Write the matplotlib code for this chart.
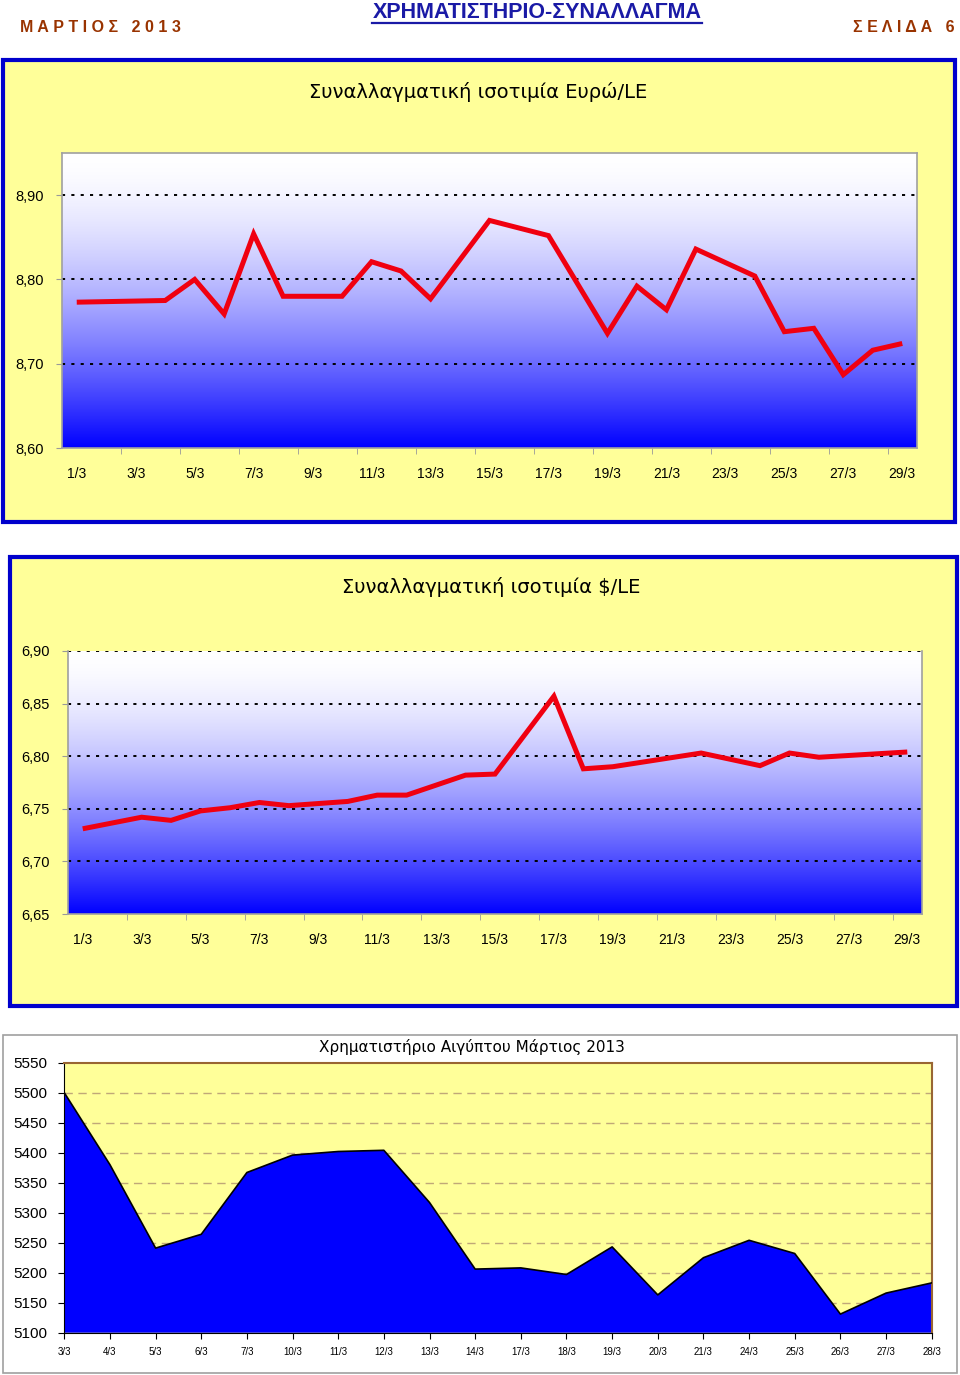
import numpy as np
import matplotlib.pyplot as plt
from matplotlib.patches import Rectangle
from matplotlib.lines import Line2D
from matplotlib.ticker import FuncFormatter

# ---- δεδομένα (εκτίμηση από την εικόνα) ----
eur_days = [1, 4, 5, 6, 7, 8, 10, 11, 12, 13, 15, 17, 19, 20, 21, 22, 24, 25, 26, 27, 28, 29]
eur_vals = [8.773, 8.775, 8.800, 8.759, 8.854, 8.780, 8.780, 8.821, 8.810, 8.777, 8.870,
            8.852, 8.736, 8.792, 8.764, 8.836, 8.804, 8.738, 8.742, 8.687, 8.716, 8.724]

usd_days = [1, 3, 4, 5, 6, 7, 8, 10, 11, 12, 14, 15, 17, 18, 19, 22, 24, 25, 26, 29]
usd_vals = [6.731, 6.742, 6.739, 6.748, 6.751, 6.756, 6.753, 6.757, 6.763, 6.763, 6.782,
            6.783, 6.857, 6.788, 6.790, 6.803, 6.791, 6.803, 6.799, 6.804]

egx_dates = ["3/3", "4/3", "5/3", "6/3", "7/3", "10/3", "11/3", "12/3", "13/3", "14/3",
             "17/3", "18/3", "19/3", "20/3", "21/3", "24/3", "25/3", "26/3", "27/3", "28/3"]
egx_vals = [5500, 5380, 5241, 5264, 5367, 5396, 5402, 5404, 5317, 5206,
            5208, 5197, 5243, 5163, 5225, 5254, 5232, 5131, 5166, 5183]

fx_labels = [f"{d}/3" for d in range(1, 30, 2)]

W, H = 960, 1375
fig = plt.figure(figsize=(W / 100, H / 100), dpi=100)
fig.patch.set_facecolor("white")

TICK_FONT = "Liberation Sans"
TITLE_FONT = "DejaVu Sans"


def box(l, t, r, b):
    """pixel box -> figure fraction [left, bottom, width, height]"""
    return [l / W, 1 - b / H, (r - l) / W, (b - t) / H]


def frame(l, t, r, b, face, edge, lw):
    p = Rectangle((l / W, 1 - b / H), (r - l) / W, (b - t) / H, transform=fig.transFigure,
                  facecolor=face, edgecolor=edge, linewidth=lw, zorder=-5)
    fig.add_artist(p)


def comma(nd):
    return FuncFormatter(lambda v, pos: f"{v:.{nd}f}".replace(".", ","))


def fx_chart(ax, days, vals, ylim, grid_vals, ydigits):
    # φόντο με διαβάθμιση λευκό -> μπλε
    s = np.linspace(0, 1, 400)
    t = s ** 1.6
    img = np.stack([1 - t, 1 - t, np.ones_like(t)], axis=-1)[:, None, :]
    ax.imshow(img, extent=(0.5, 29.5, ylim[0], ylim[1]), aspect="auto",
              origin="upper", zorder=0, interpolation="bilinear")
    ax.set_xlim(0.5, 29.5)
    ax.set_ylim(*ylim)
    for g in grid_vals:
        ax.axhline(g, color="black", lw=1.4, ls=(0, (1.6, 3.2)), zorder=1)
    ax.plot(days, vals, color="#F00010", lw=3.6, solid_joinstyle="miter",
            solid_capstyle="butt", zorder=3)
    ax.set_xticks(range(1, 30, 2))
    ax.set_xticklabels(fx_labels)
    ax.set_xticks(np.arange(2.5, 29, 2), minor=True)
    ax.tick_params(axis="x", which="major", length=0, pad=14, labelsize=10)
    ax.tick_params(axis="x", which="minor", length=4, color="#999999", direction="out")
    ax.yaxis.set_major_formatter(comma(ydigits))
    ax.tick_params(axis="y", length=4, color="#999999", pad=9, labelsize=10.5)
    for lab in ax.get_xticklabels() + ax.get_yticklabels():
        lab.set_fontfamily(TICK_FONT)
    for sp in ax.spines.values():
        sp.set_color("#A0A0A0")
        sp.set_linewidth(1.2)


# ---- κεφαλίδα ----
fig.text(20 / W, 1 - 27 / H, "Μ Α Ρ Τ Ι Ο Σ   2 0 1 3", fontsize=11.5, fontweight="bold",
         color="#993300", family=TICK_FONT, ha="left", va="center")
fig.text(955 / W, 1 - 27 / H, "Σ Ε Λ Ι Δ Α   6", fontsize=11.5, fontweight="bold",
         color="#993300", family=TICK_FONT, ha="right", va="center")
fig.text(537 / W, 1 - 12 / H, "ΧΡΗΜΑΤΙΣΤΗΡΙΟ-ΣΥΝΑΛΛΑΓΜΑ", fontsize=15.5, fontweight="bold",
         color="#1A1AA6", family=TICK_FONT, ha="center", va="center")
fig.add_artist(Line2D([372 / W, 702 / W], [1 - 22.5 / H, 1 - 22.5 / H], color="#1A1AA6", lw=1.6,
                      transform=fig.transFigure))

# ---- γράφημα 1: Ευρώ/LE ----
frame(3, 60, 955, 522, "#FFFF99", "#0000CC", 3)
fig.text(478 / W, 1 - 92 / H, "Συναλλαγματική ισοτιμία Ευρώ/LE", fontsize=14,
         family=TITLE_FONT, ha="center", va="center", color="black")
ax1 = fig.add_axes(box(62, 153, 917, 448))
fx_chart(ax1, eur_days, eur_vals, (8.60, 8.95), [8.70, 8.80, 8.90], 2)
ax1.set_yticks([8.60, 8.70, 8.80, 8.90])

# ---- γράφημα 2: $/LE ----
frame(10, 557, 957, 1006, "#FFFF99", "#0000CC", 3)
fig.text(491 / W, 1 - 587 / H, "Συναλλαγματική ισοτιμία $/LE", fontsize=14,
         family=TITLE_FONT, ha="center", va="center", color="black")
ax2 = fig.add_axes(box(68, 651, 922, 914))
fx_chart(ax2, usd_days, usd_vals, (6.65, 6.90), [6.70, 6.75, 6.80, 6.85, 6.90], 2)
ax2.set_yticks([6.65, 6.70, 6.75, 6.80, 6.85, 6.90])
ax2.spines["top"].set_visible(False)

# ---- γράφημα 3: Χρηματιστήριο ----
frame(3, 1035, 957, 1373, "white", "#A0A0A0", 1.2)
fig.text(472 / W, 1 - 1047 / H, "Χρηματιστήριο Αιγύπτου Μάρτιος 2013", fontsize=11,
         family=TITLE_FONT, ha="center", va="center", color="black")
ax3 = fig.add_axes(box(64.3, 1062.7, 931.7, 1332.7))
ax3.set_facecolor("#FFFF99")
x3 = np.arange(len(egx_vals))
ax3.set_xlim(0, len(egx_vals) - 1)
ax3.set_ylim(5100, 5550)
for g in range(5150, 5550, 50):
    ax3.axhline(g, color="#C0A878", lw=1, ls=(0, (6, 4)), zorder=1)
ax3.fill_between(x3, 5100, egx_vals, facecolor="#0000FF", edgecolor="none", zorder=2)
ax3.plot(x3, egx_vals, color="black", lw=1.2, zorder=3)
ax3.set_xticks(x3)
ax3.set_xticklabels(egx_dates)
ax3.set_yticks(range(5100, 5551, 50))
ax3.tick_params(axis="x", length=4, pad=6, labelsize=7)
ax3.tick_params(axis="y", length=4, pad=8, labelsize=11)
for lab in ax3.get_xticklabels() + ax3.get_yticklabels():
    lab.set_fontfamily(TICK_FONT)
ax3.spines["top"].set_color("#996633")
ax3.spines["right"].set_color("#996633")
ax3.spines["top"].set_linewidth(1.5)
ax3.spines["right"].set_linewidth(1.5)
ax3.spines["left"].set_color("black")
ax3.spines["bottom"].set_color("black")

fig.savefig("out.png", dpi=100)
